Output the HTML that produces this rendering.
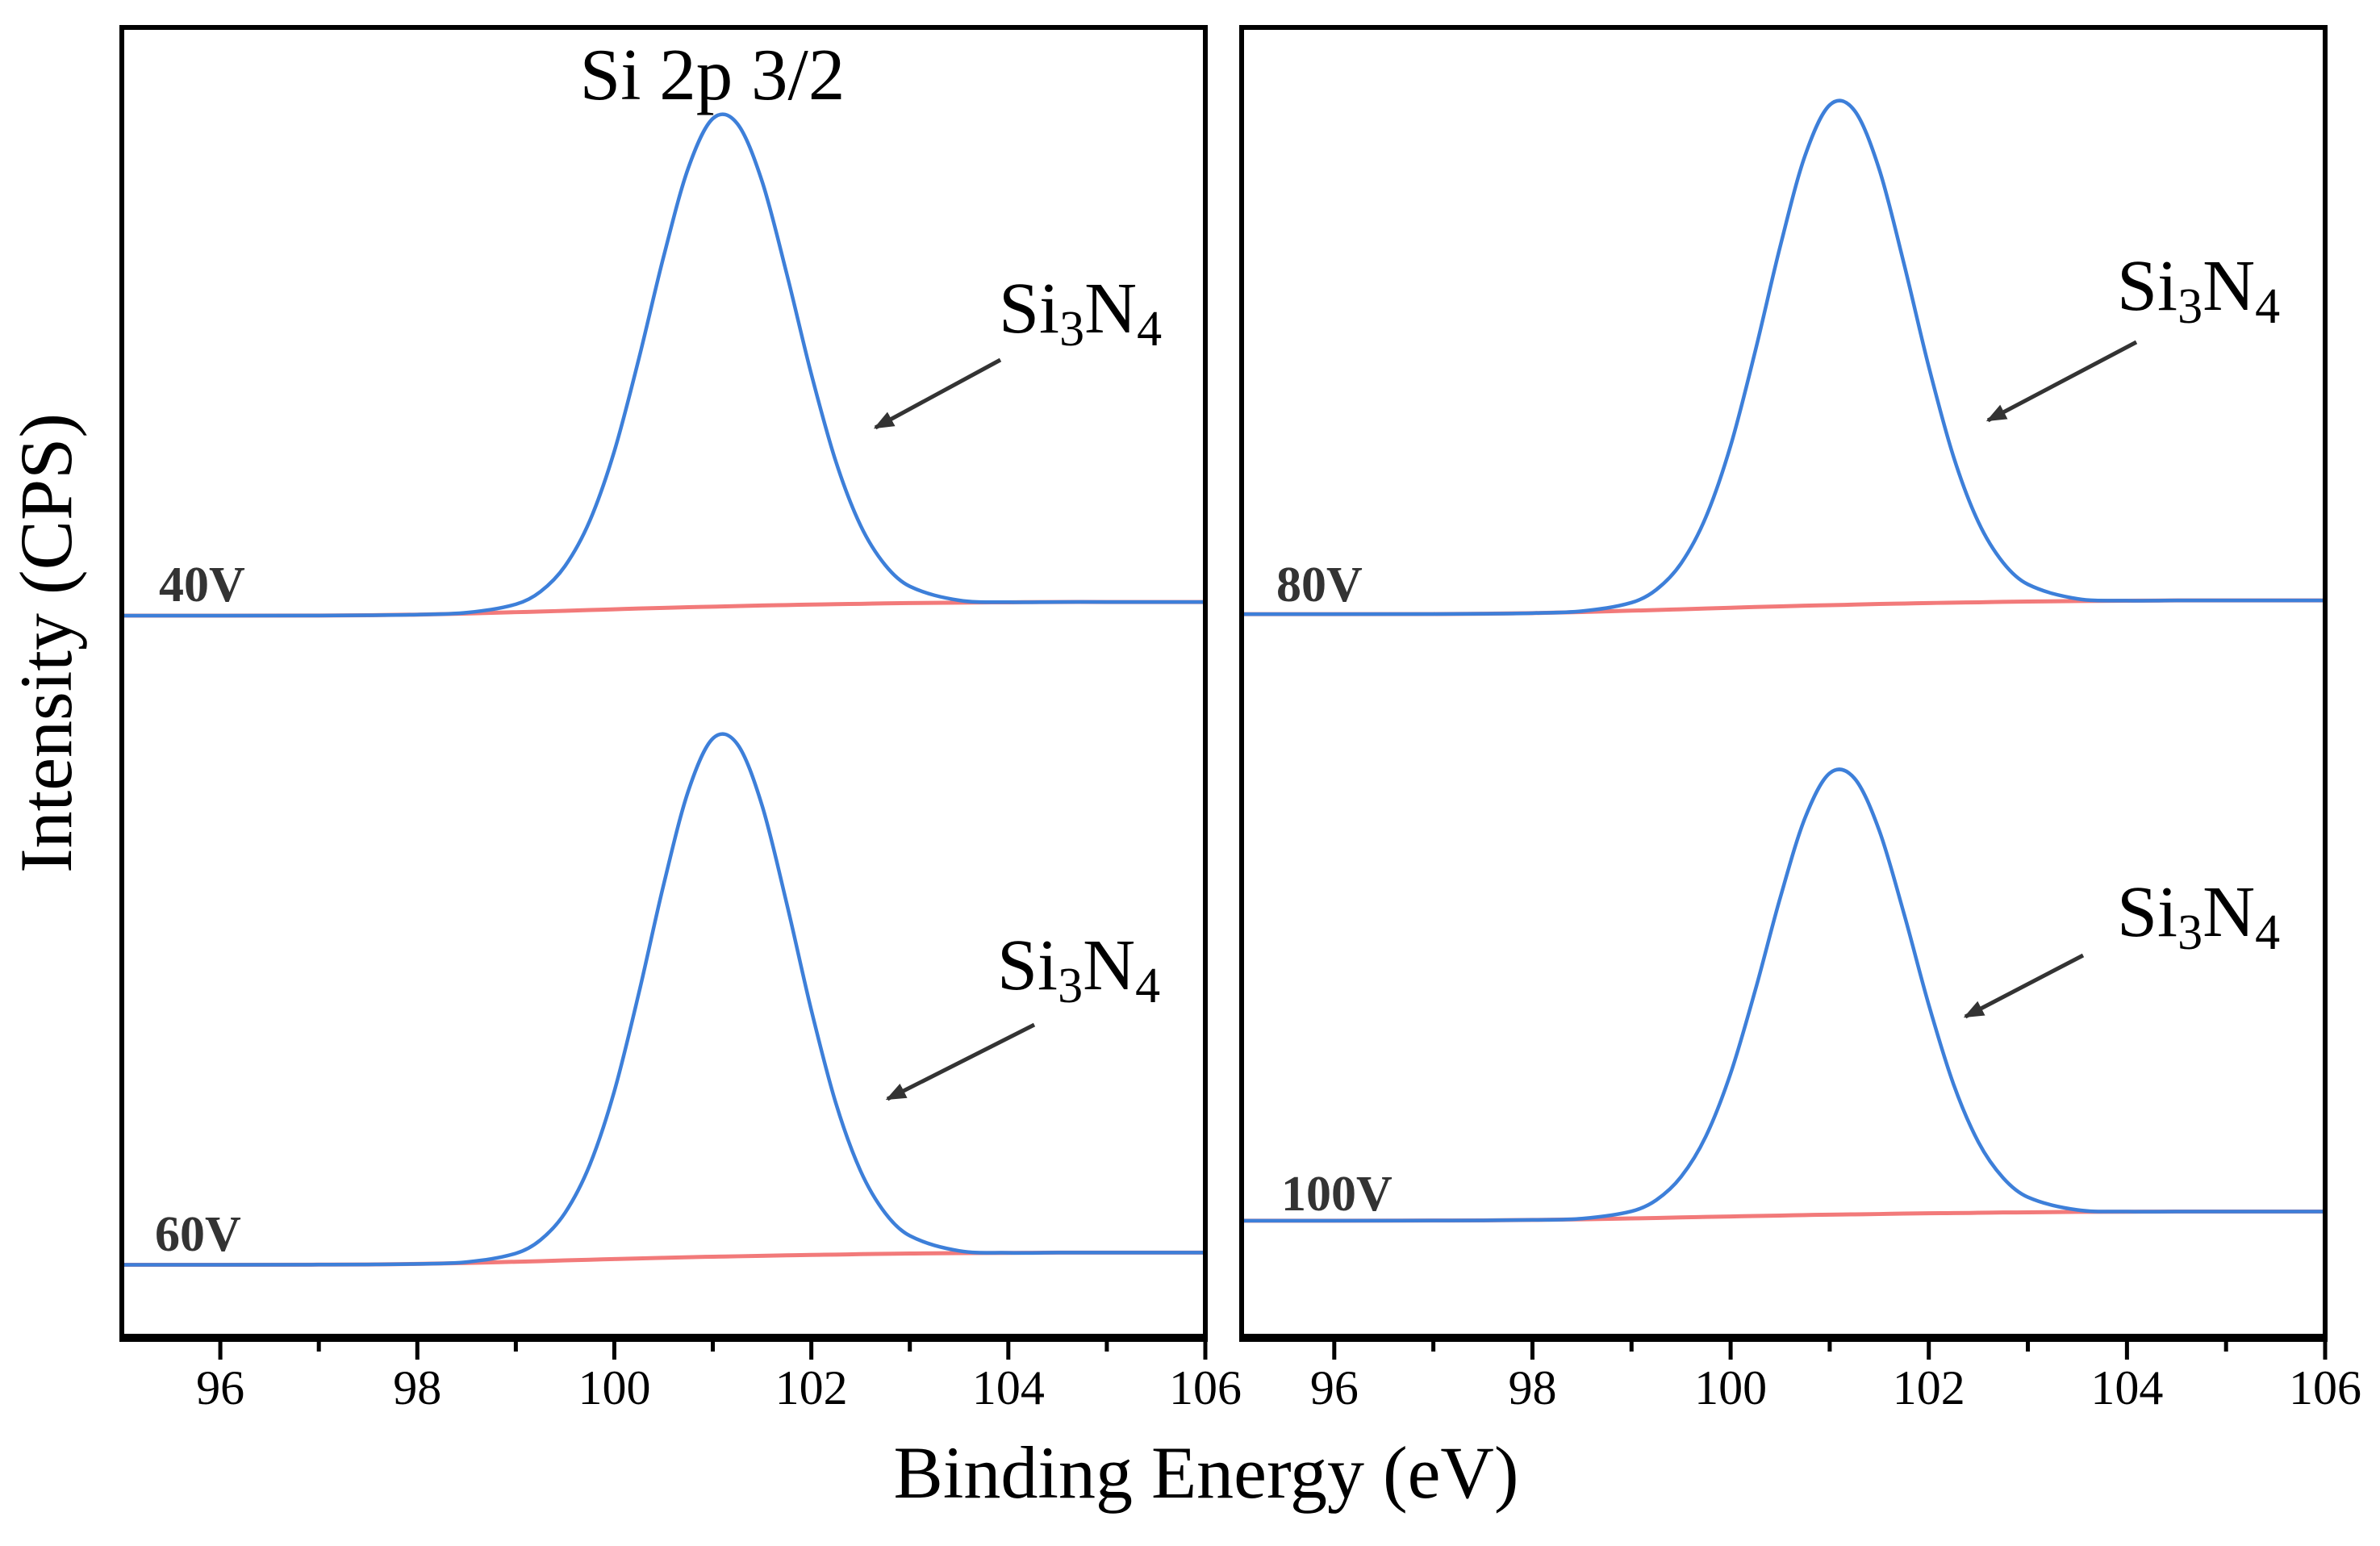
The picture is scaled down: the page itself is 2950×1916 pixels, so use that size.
<!DOCTYPE html>
<html><head><meta charset="utf-8"><style>
html,body{margin:0;padding:0;background:#fff;}
svg{display:block;font-family:"Liberation Serif",serif;}
</style></head><body>
<svg id="chart" width="2950" height="1916" viewBox="0 0 2950 1916">
<defs><marker id="ah" viewBox="0 0 10 10" refX="9" refY="5" markerWidth="5" markerHeight="5" orient="auto"><path d="M0,1 L10,5 L0,9 z" fill="#333"/></marker></defs>
<text x="883" y="123" font-size="91" text-anchor="middle">Si 2p 3/2</text>
<text x="1495" y="1856" font-size="92" text-anchor="middle">Binding Energy (eV)</text>
<text transform="translate(88,797) rotate(-90)" font-size="92" text-anchor="middle">Intensity (CPS)</text>
</svg>
<script>
const energies=[95,96,97,97.5,98,98.5,99,99.25,99.5,99.75,100,100.25,100.5,100.75,101,101.25,101.5,101.75,102,102.25,102.5,102.75,103,103.5,104,104.5,105,106];
const xTicks=[96,98,100,102,104,106];
const minorTicks=[97,99,101,103,105];
const spec40=[475,475,475.1,475.3,475.7,477,482.5,490.8,507.7,537.3,583.2,644.3,711.1,769.3,802,798.5,760.7,700,633.9,576.2,534.3,508.3,494.3,485.1,483.9,484,484,484];
const bg40=[475,475,475.1,475.3,475.7,476.4,477.3,477.7,478.2,478.7,479.2,479.7,480.1,480.6,480.9,481.3,481.7,482,482.3,482.6,482.8,483.1,483.3,483.6,483.8,484,484,484];
const spec60=[48,48,48.1,48.2,48.6,49.8,55.5,64.3,82.2,113.6,162.2,227,297.9,359.5,394.2,390.4,350.1,285.7,215.5,154.1,109.7,82,67.1,57.2,55.9,56,56,56];
const bg60=[48,48,48.1,48.2,48.6,49.2,50,50.4,50.9,51.3,51.8,52.2,52.6,53,53.3,53.6,53.9,54.2,54.5,54.7,55,55.2,55.4,55.7,55.8,56,56,56];
const spec80=[476,476,476.1,476.3,476.7,478,483.6,492.1,509.4,539.8,586.8,649.4,717.8,777.4,810.9,807.3,768.6,706.4,638.7,579.5,536.6,509.9,495.6,486.1,484.9,485,485,485];
const bg80=[476,476,476.1,476.3,476.7,477.4,478.3,478.7,479.2,479.7,480.2,480.7,481.1,481.6,481.9,482.3,482.7,483,483.3,483.6,483.8,484.1,484.3,484.6,484.8,485,485,485];
const spec100=[77,77,77.1,77.2,77.5,78.4,83.2,90.6,105.9,132.5,173.9,228.9,289.3,341.8,371.4,368,333.7,278.9,219,166.7,128.8,105.2,92.5,84.1,83,83,83,83];
const bg100=[77,77,77.1,77.2,77.5,77.9,78.5,78.8,79.2,79.5,79.8,80.1,80.4,80.7,81,81.2,81.4,81.7,81.9,82,82.2,82.4,82.5,82.8,82.9,83,83,83];

const NS="http://www.w3.org/2000/svg";
const svgEl=document.getElementById('chart');
const S=1.884;
function mk(t,a,p){const e=document.createElementNS(NS,t);for(const k in a)e.setAttribute(k,a[k]);(p||svgEl).appendChild(e);return e;}
function smooth(pts){
 const n=pts.length,m=[];
 for(let i=0;i<n;i++){const a=pts[Math.max(0,i-1)],b=pts[Math.min(n-1,i+1)];m.push((b[1]-a[1])/(b[0]-a[0]));}
 let d='M'+pts[0][0]+','+pts[0][1];
 for(let i=0;i<n-1;i++){const p1=pts[i],p2=pts[i+1],h=(p2[0]-p1[0])/3;
  d+=` C${p1[0]+h},${p1[1]+m[i]*h} ${p2[0]-h},${p2[1]-m[i+1]*h} ${p2[0]},${p2[1]}`;}
 return d;}

const panels=[
 {name:'left',x0:151,x1:1494,curves:[{s:spec40,b:bg40,lab:'40V',lx:197,ly:745,ax:[1240,446,1085,530],tx:1238,ty:412},{s:spec60,b:bg60,lab:'60V',lx:192,ly:1550,ax:[1282,1270,1100,1362],tx:1236,ty:1226}]},
 {name:'right',x0:1539,x1:2882,curves:[{s:spec80,b:bg80,lab:'80V',lx:1582,ly:745,ax:[2648,424,2464,521],tx:2624,ty:384},{s:spec100,b:bg100,lab:'100V',lx:1588,ly:1500,ax:[2582,1184,2436,1260],tx:2624,ty:1160}]}
];
const topY=34,bottomY=1658;
panels.forEach((P,pi)=>{
 const x95=P.x0+(pi===0?0:-8);
 const xScale=e=>x95+(e-95)*(P.x1-x95)/11;
 const yScale=v=>(880-v)*S;
 const g=mk('g',{});
 
 
 const cid='clip'+pi;
 const cp=mk('clipPath',{id:cid},g);mk('rect',{x:P.x0,y:topY,width:P.x1-P.x0,height:bottomY-topY},cp);
 P.curves.forEach(C=>{
  const bp=mk('path',{d:smooth(energies.map((e,i)=>[xScale(e),yScale(C.b[i])])),fill:'none',stroke:'#f27a7a','stroke-width':5,'clip-path':`url(#${cid})`},g);
  
  
  const sp=mk('path',{d:smooth(energies.map((e,i)=>[xScale(e),yScale(C.s[i])])),fill:'none',stroke:'#3d7fd9','stroke-width':4.5,'clip-path':`url(#${cid})`},g);
  
  
  const l=mk('text',{x:C.lx,y:C.ly,'font-size':62,fill:'#333','font-weight':'bold'},g);l.textContent=C.lab;
  
  
  const t=mk('text',{x:C.tx,y:C.ty,'font-size':90},g);
  t.innerHTML='Si<tspan font-size="62" dy="16">3</tspan><tspan dy="-16">N</tspan><tspan font-size="62" dy="16">4</tspan>';
  
  
  const a=mk('line',{x1:C.ax[0],y1:C.ax[1],x2:C.ax[2],y2:C.ax[3],stroke:'#333','stroke-width':5,'marker-end':'url(#ah)'},g);
  
  
 });
 const fr=mk('path',{d:`M${P.x0},${bottomY} L${P.x0},${topY} L${P.x1},${topY} L${P.x1},${bottomY}`,fill:'none',stroke:'#000','stroke-width':6},g);
 
 
 const ax=mk('line',{x1:P.x0-3,y1:bottomY,x2:P.x1+3,y2:bottomY,stroke:'#000','stroke-width':10},g);
 
 
 xTicks.forEach(v=>{const x=xScale(v);
  const tk=mk('line',{x1:x,y1:bottomY,x2:x,y2:bottomY+27,stroke:'#000','stroke-width':5},g);
  
  
  const tl=mk('text',{x:x,y:1740,'font-size':60,'text-anchor':'middle'},g);tl.textContent=v;
  
  
 });
 minorTicks.forEach(v=>{const x=xScale(v);
  const tk=mk('line',{x1:x,y1:bottomY,x2:x,y2:bottomY+17,stroke:'#000','stroke-width':5},g);
  
  
 });
});
</script>
</body></html>
